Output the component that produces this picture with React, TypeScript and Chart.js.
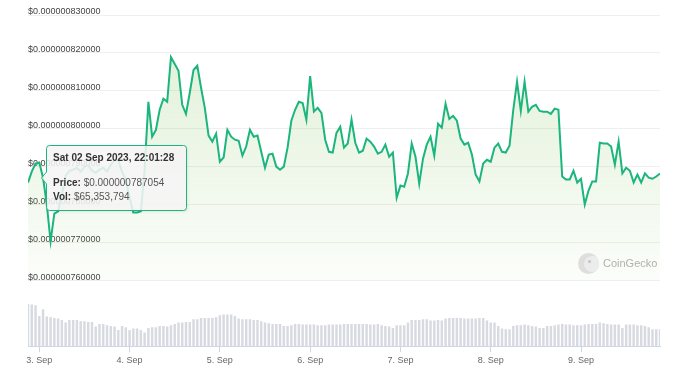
import React, { useEffect, useRef, useState } from "react";
import { Chart, registerables } from "chart.js";

Chart.register(...registerables);

// ---- data (hourly, x = hours relative to 3 Sep 2023 00:00) ----
const startHour = -3;

// price in nano-USD (1e-9 USD)
const priceNanoUsd = [
  785.8, 788.7, 790.8, 791.1, 787.054, 780.0, 770.3, 777.6, 778.2, 782.6, 787.6, 788.9,
  789.2, 789.7, 788.7, 790.0, 790.3, 788.9, 788.4, 789.2, 789.7, 788.7, 790.5, 791.8,
  791.6, 788.7, 786.6, 781.8, 777.9, 777.9, 778.2, 789.2, 807.1, 797.9, 799.7, 805.0,
  807.9, 807.1, 818.9, 817.1, 815.3, 806.3, 803.9, 809.5, 815.5, 816.6, 810.8, 805.5,
  798.2, 796.6, 798.7, 791.3, 792.4, 799.7, 797.9, 797.1, 796.8, 792.9, 795.3, 799.7,
  797.9, 798.2, 793.9, 789.7, 793.2, 793.4, 790.0, 789.2, 790.0, 795.0, 802.1, 805.0,
  807.1, 806.8, 802.4, 813.9, 804.5, 805.5, 804.2, 797.1, 793.9, 793.7, 798.9, 800.5,
  795.0, 796.1, 802.4, 796.3, 793.7, 794.2, 797.4, 796.6, 795.3, 793.4, 793.9, 795.8,
  792.6, 793.7, 781.8, 785.0, 784.7, 788.2, 796.1, 792.6, 785.5, 792.1, 795.8, 797.9,
  792.9, 801.3, 800.3, 806.6, 802.6, 803.4, 802.1, 797.4, 795.8, 796.3, 793.2, 787.9,
  786.1, 790.8, 791.8, 791.3, 795.0, 796.1, 793.9, 793.7, 795.5, 805.0, 812.4, 804.7,
  812.4, 804.5, 805.8, 806.3, 804.7, 804.5, 804.5, 803.9, 805.3, 805.0, 787.4, 786.6,
  786.6, 788.9, 785.8, 786.8, 780.0, 783.7, 786.1, 786.1, 796.3, 796.1, 796.1, 795.3,
  790.5, 796.6, 788.2, 789.7, 788.9, 785.8, 787.9, 785.8, 788.2, 787.1, 786.8, 787.4,
  788.2,
];

// volume in million USD
const volumeMillionUsd = [
  74.8, 73.6, 72.4, 53.4, 65.353794, 52.2, 51.0, 49.8, 48.7, 46.3, 41.5, 46.3,
  46.3, 46.3, 43.9, 43.9, 42.7, 42.7, 34.4, 39.2, 39.2, 36.8, 35.6, 34.4,
  28.5, 35.6, 33.2, 28.5, 30.9, 30.9, 28.5, 23.7, 32.0, 33.2, 33.2, 35.6,
  35.6, 34.4, 36.8, 39.2, 41.5, 41.5, 42.7, 42.7, 47.5, 47.5, 49.8, 49.8,
  49.8, 49.8, 51.0, 54.6, 55.8, 55.8, 55.8, 53.4, 48.7, 47.5, 47.5, 47.5,
  46.3, 46.3, 43.9, 41.5, 40.3, 39.2, 39.2, 39.2, 35.6, 35.6, 36.8, 39.2,
  39.2, 38.0, 38.0, 38.0, 38.0, 36.8, 36.8, 36.8, 38.0, 38.0, 38.0, 38.0,
  39.2, 39.2, 39.2, 39.2, 39.2, 39.2, 39.2, 38.0, 38.0, 39.2, 36.8, 35.6,
  34.4, 32.0, 36.8, 36.8, 36.8, 41.5, 46.3, 46.3, 46.3, 47.5, 47.5, 45.1,
  45.1, 46.3, 45.1, 48.7, 49.8, 49.8, 49.8, 49.8, 48.7, 48.7, 48.7, 48.7,
  49.8, 49.8, 45.1, 41.5, 41.5, 35.6, 30.9, 29.7, 29.7, 35.6, 36.8, 36.8,
  38.0, 36.8, 35.6, 34.4, 32.0, 32.0, 35.6, 35.6, 36.8, 38.0, 39.2, 38.0,
  38.0, 36.8, 36.8, 36.8, 38.0, 39.2, 39.2, 39.2, 41.5, 40.3, 39.2, 38.0,
  38.0, 38.0, 32.0, 38.0, 38.0, 38.0, 36.8, 36.8, 35.6, 33.2, 29.7, 29.7,
  29.7,
];

const priceTicks = [760, 770, 780, 790, 800, 810, 820, 830];
const priceAxisMin = 742.63;
const priceAxisMax = 830;
const volumeAxisMax = 591;
const dayTickHours = [0, 24, 48, 72, 96, 120, 144];
const dayLabels = ["3. Sep", "4. Sep", "5. Sep", "6. Sep", "7. Sep", "8. Sep", "9. Sep"];

const hoverIndex = 4;
const tooltipTitle = "Sat 02 Sep 2023, 22:01:28";

const FONT = '"Liberation Sans", Arial, Helvetica, sans-serif';
const LINE = "#1bb57d";

function fmtPrice(nano: number) {
  return "$" + (nano / 1e9).toFixed(12);
}
function fmtVol(mil: number) {
  return "$" + Math.round(mil * 1e6).toLocaleString("en-US");
}

function Tooltip({ x, y }: { x: number; y: number }) {
  const W = 141;
  const H = 66;
  const cy = H / 2;
  const d = `M3.5,0.5 H${W - 3.5} Q${W - 0.5},0.5 ${W - 0.5},3.5 V${H - 3.5} Q${W - 0.5},${H - 0.5} ${W - 3.5},${H - 0.5} H3.5 Q0.5,${H - 0.5} 0.5,${H - 3.5} V${cy + 6} L-4.5,${cy} L0.5,${cy - 6} V3.5 Q0.5,0.5 3.5,0.5 Z`;
  const line: React.CSSProperties = {
    position: "absolute",
    left: 7,
    fontSize: 10,
    lineHeight: "14px",
    whiteSpace: "nowrap",
    color: "#555",
  };
  return (
    <div style={{ position: "absolute", left: x + 3, top: y - 33, width: W, height: H, fontFamily: FONT }}>
      <svg
        width={W}
        height={H}
        style={{ position: "absolute", left: 0, top: 0, overflow: "visible", filter: "drop-shadow(1px 1px 1px rgba(0,0,0,0.08))" }}
      >
        <path d={d} fill="rgba(247,247,247,0.86)" stroke={LINE} strokeWidth={1} />
      </svg>
      <div style={{ ...line, top: 6, fontWeight: "bold", color: "#333" }}>{tooltipTitle}</div>
      <div style={{ ...line, top: 31 }}>
        <b style={{ color: "#333" }}>Price:</b> {fmtPrice(priceNanoUsd[hoverIndex])}
      </div>
      <div style={{ ...line, top: 45 }}>
        <b style={{ color: "#333" }}>Vol:</b> {fmtVol(volumeMillionUsd[hoverIndex])}
      </div>
    </div>
  );
}

export default function App() {
  const canvasRef = useRef<HTMLCanvasElement>(null);
  const [tip, setTip] = useState<{ x: number; y: number } | null>(null);

  useEffect(() => {
    const canvas = canvasRef.current;
    if (!canvas) return;
    Chart.defaults.font.family = FONT;
    const xs = priceNanoUsd.map((_, i) => startHour + i);
    const chart = new Chart(canvas, {
      type: "line",
      data: {
        datasets: [
          {
            type: "line",
            data: xs.map((x, i) => ({ x, y: priceNanoUsd[i] })),
            yAxisID: "y",
            borderColor: LINE,
            borderWidth: 2,
            pointRadius: 0,
            tension: 0,
            fill: { value: 760 },
            backgroundColor: (ctx: any) => {
              const ch = ctx.chart;
              if (!ch.chartArea) return "rgba(0,0,0,0)";
              const ys = ch.scales.y;
              const g = ch.ctx.createLinearGradient(0, ys.getPixelForValue(830), 0, ys.getPixelForValue(760));
              g.addColorStop(0, "rgba(130,195,90,0.26)");
              g.addColorStop(1, "rgba(130,195,90,0.03)");
              return g;
            },
            order: 0,
          } as any,
          {
            type: "bar",
            data: xs.map((x, i) => ({ x, y: volumeMillionUsd[i] })),
            yAxisID: "yv",
            backgroundColor: "#d8dae1",
            barThickness: 1.8,
            order: 1,
          } as any,
        ],
      },
      options: {
        responsive: false,
        animation: false,
        events: [],
        layout: { padding: { left: 28, top: 15, right: 21, bottom: 10 } },
        plugins: { legend: { display: false }, tooltip: { enabled: false } },
        scales: {
          x: {
            type: "linear",
            min: startHour,
            max: startHour + priceNanoUsd.length - 1,
            offset: false,
            afterBuildTicks: (s: any) => {
              s.ticks = dayTickHours.map((v) => ({ value: v }));
            },
            afterFit: (s: any) => {
              s.paddingLeft = 0;
              s.paddingRight = 0;
            },
            ticks: {
              autoSkip: false,
              maxRotation: 0,
              padding: 3,
              color: "#666",
              font: { size: 9 },
              callback: (_v: any, i: number) => dayLabels[i],
            },
            grid: { offset: false, drawOnChartArea: false, drawTicks: true, tickLength: 6, color: "#ccd6eb" },
            border: { display: true, color: "#ccd6eb" },
          },
          y: {
            type: "linear",
            position: "left",
            min: priceAxisMin,
            max: priceAxisMax,
            afterBuildTicks: (s: any) => {
              s.ticks = priceTicks.map((v) => ({ value: v }));
            },
            afterFit: (s: any) => {
              s.paddingTop = 0;
              s.paddingBottom = 0;
            },
            ticks: {
              mirror: true,
              padding: 0,
              labelOffset: -3,
              color: "#444",
              font: { size: 9 },
              callback: (v: any) => fmtPrice(Number(v)),
            },
            grid: { color: "#efefef", drawTicks: false },
            border: { display: false },
          },
          yv: {
            type: "linear",
            display: false,
            min: 0,
            max: volumeAxisMax,
          },
        },
      } as any,
    });
    const el: any = chart.getDatasetMeta(0).data[hoverIndex];
    if (el) setTip({ x: el.x, y: el.y });
    return () => chart.destroy();
  }, []);

  return (
    <div style={{ position: "absolute", left: 0, top: 0, width: 681, height: 379, background: "#fff", fontFamily: FONT }}>
      <canvas ref={canvasRef} width={681} height={379} style={{ display: "block" }} />
      <div
        style={{
          position: "absolute",
          left: 578,
          top: 253,
          width: 21,
          height: 21,
          borderRadius: "50%",
          background: "#dedede",
          overflow: "hidden",
        }}
      >
        <div
          style={{
            position: "absolute",
            left: 6,
            top: 3,
            width: 17,
            height: 16,
            borderRadius: "50%",
            background: "#ececec",
          }}
        />
        <div
          style={{ position: "absolute", left: 10, top: 7, width: 3, height: 3, borderRadius: "50%", background: "#c4c4c4" }}
        />
      </div>
      <div
        style={{
          position: "absolute",
          left: 603,
          top: 256,
          fontSize: 11,
          lineHeight: "14px",
          color: "#b0b0b0",
          whiteSpace: "nowrap",
        }}
      >
        CoinGecko
      </div>
      {tip && <Tooltip x={tip.x} y={tip.y} />}
    </div>
  );
}
